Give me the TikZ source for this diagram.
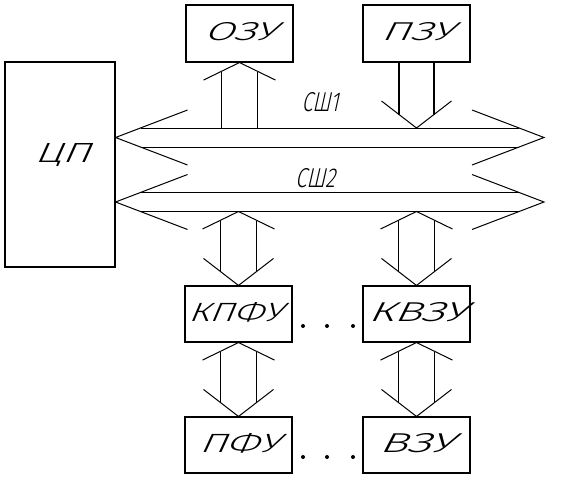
\documentclass[tikz,border=0pt]{standalone}
\usepackage{fontspec}
\setmainfont[FakeSlant=0.3]{Fira Sans Light}
\usetikzlibrary{calc}
\newcommand\uphd[1]{\draw[head] ($(#1)+(-36,17.5)$) -- (#1) -- ($(#1)+(36,17.5)$);}
\newcommand\dnhd[1]{\draw[head] ($(#1)+(-35,-27)$) -- (#1) -- ($(#1)+(35,-27)$);}
\newcommand\duplex[2]{\uphd{#1}\dnhd{#2}%
  \draw[shaft] ($(#1)+(-18,9)$) -- ($(#2)+(-18,-13.5)$);%
  \draw[shaft] ($(#1)+(18,9)$) -- ($(#2)+(18,-13.5)$);}
\newcommand\lbl[3]{\resizebox{#1pt}{#2pt}{#3}}
\begin{document}
\begin{tikzpicture}[x=1pt,y=-1pt,line width=1pt,
  box/.style={draw,line width=1.1pt,minimum width=107pt,minimum height=57pt,inner sep=0pt},
  txt/.style={inner sep=0pt},
  shaft/.style={line width=1.5pt},
  head/.style={line width=1pt},
  dot/.style={circle,fill,inner sep=0pt,minimum size=4pt}]
\useasboundingbox (0,0) rectangle (567,482);
% boxes
\node[box,minimum width=110pt,minimum height=205pt] (cpu) at (60,164.5) {};
\node[txt] (cpul) at (62,155) {\lbl{55}{19}{ЦП}};
\node[box] (ozu) at (239.5,33.5) {};
\node[txt] (ozul) at (240,31.5) {\lbl{72}{18}{ОЗУ}};
\node[box] (pzu) at (416.5,33.5) {};
\node[txt] (pzul) at (417,31.5) {\lbl{72}{18}{ПЗУ}};
\node[box,minimum height=56pt] (kpfu) at (238.5,314) {};
\node[txt] (kpful) at (235,312) {\lbl{94}{19}{КПФУ}};
\node[box,minimum height=56pt] (kvzu) at (416.5,314) {};
\node[txt] (kvzul) at (417,312) {\lbl{98}{19}{КВЗУ}};
\node[box,minimum height=56pt] (pfu) at (238.5,445) {};
\node[txt] (pful) at (239,443) {\lbl{80}{19}{ПФУ}};
\node[box,minimum height=56pt] (vzu) at (416.5,445) {};
\node[txt] (vzul) at (416,443) {\lbl{74}{19}{ВЗУ}};
% buses
\coordinate (b1l) at (cpu.east |- 0,137.5);
\coordinate (b1r) at (544,137.5);
\coordinate (b2l) at (cpu.east |- 0,202);
\coordinate (b2r) at (544,202);
\coordinate (b1top) at ($(b1l)+(0,-9.5)$);
\coordinate (b2bot) at ($(b2l)+(0,9.5)$);
\foreach \b in {b1,b2}{
  \draw ($(\b l)+(72,-27.5)$) -- (\b l) -- ($(\b l)+(72,27.5)$);
  \draw ($(\b r)+(-72,-27.5)$) -- (\b r) -- ($(\b r)+(-72,27.5)$);
  \draw ($(\b l)+(25,-9.5)$) -- ($(\b r)+(-25,-9.5)$);
  \draw ($(\b l)+(25,9.5)$) -- ($(\b r)+(-25,9.5)$);
}
\node[txt] (sh1) at (320,102) {\lbl{37}{19}{СШ1}};
\node[txt] (sh2) at (315,178) {\lbl{40}{19}{СШ2}};
% OZU <- bus1
\uphd{ozu.south}
\draw[shaft] ($(ozu.south)+(-18,9)$) -- ($(ozu.south |- b1top)+(-18,0)$);
\draw[shaft] ($(ozu.south)+(18,9)$) -- ($(ozu.south |- b1top)+(18,0)$);
% PZU -> bus1
\coordinate (pzut) at (pzu.south |- b1top);
\dnhd{pzut}
\draw[shaft] ($(pzu.south)+(-17.5,0)$) -- ($(pzut)+(-17.5,-13.5)$);
\draw[shaft] ($(pzu.south)+(17.5,0)$) -- ($(pzut)+(17.5,-13.5)$);
% bus2 <-> controllers
\coordinate (a1) at (kpfu.north |- b2bot);
\coordinate (a2) at (kvzu.north |- b2bot);
\duplex{a1}{kpfu.north}
\duplex{a2}{kvzu.north}
\duplex{kpfu.south}{pfu.north}
\duplex{kvzu.south}{vzu.north}
% ellipsis dots
\node[dot] (d1) at (303,326) {};
\node[dot] (d2) at (327,326) {};
\node[dot] (d3) at (353,326) {};
\node[dot] (d4) at (303,457) {};
\node[dot] (d5) at (327,457) {};
\node[dot] (d6) at (353,457) {};
\end{tikzpicture}
\end{document}
